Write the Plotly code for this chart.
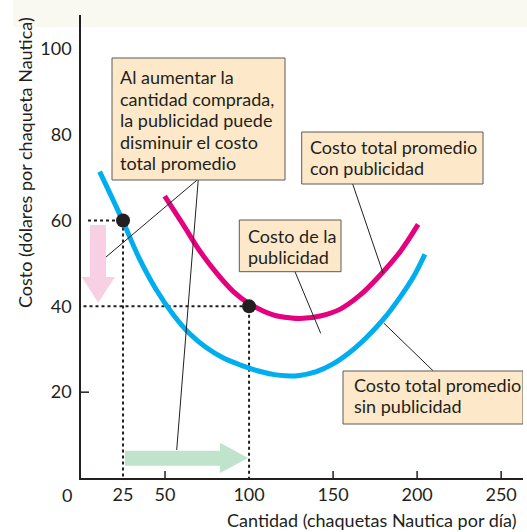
import plotly.graph_objects as go

# ---- data ----
x_sin = [11.1, 24.4, 34.9, 44.9, 54.8, 64.7, 74.5, 84.5, 95, 105, 115, 122, 130, 140, 150, 160, 170, 180, 190, 198, 204.6]
y_sin = [71.4, 60.3, 51.0, 43.8, 38.1, 33.6, 30.4, 28.0, 26.3, 25.0, 24.1, 23.8, 23.9, 24.8, 26.6, 29.3, 32.8, 37.0, 42.2, 47.0, 52.1]

x_con = [49.8, 60.7, 70.7, 80.6, 90.5, 99.8, 114.3, 125, 132.1, 143, 154, 166, 177.8, 190, 200.6]
y_con = [65.7, 59.1, 52.9, 47.8, 43.5, 40.7, 38.0, 37.3, 37.2, 37.8, 39.3, 42.6, 47.2, 52.8, 59.1]

pts_x = [25, 100]
pts_y = [60, 40]

x_ticks = [25, 50, 100, 150, 200, 250]
y_ticks = [20, 40, 60, 80, 100]

box_lines = [
    ["Al aumentar la", "cantidad comprada,", "la publicidad puede", "disminuir el costo", "total promedio"],
    ["Costo total promedio", "con publicidad"],
    ["Costo de la", "publicidad"],
    ["Costo total promedio", "sin publicidad"],
]

# ---- layout geometry (pixels) ----
W, H = 527, 532
L, R, T, B = 81, 4, 15, 54
XMAX, YMAX = 263, 107.9
PW, PH = W - L - R, H - T - B


def dx(px):
    return (px - L) * XMAX / PW


def dy(py):
    return (H - B - py) * YMAX / PH


def paper_x(px):
    return (px - L) / PW


def paper_y(py):
    return (H - B - py) / PH


# box rectangles in pixels: left, right, top, bottom, text-left, first baseline, line step
boxes_px = [
    (112, 285, 58, 180, 118, 83, 21.5),
    (301.7, 483, 132, 184, 308.3, 153.3, 20.7),
    (239.3, 341, 220, 271.7, 246, 242.3, 21),
    (343, 523, 371, 424, 351.7, 390.7, 21),
]

leaders_px = [
    (198.3, 179, 106, 257),
    (198.3, 179, 176.7, 450),
    (352.7, 184, 383, 273),
    (295, 271.7, 320.7, 333.3),
    (384, 323.3, 433.3, 371),
]

DARK = "#231f20"
BLUE = "#00aeef"
MAGENTA = "#e5007e"
FONT = "Lato"
FS = 18

fig = go.Figure()

fig.add_trace(go.Scatter(x=[dx(88), pts_x[0], pts_x[0]], y=[pts_y[0], pts_y[0], 0], mode="lines",
                         line=dict(color=DARK, width=2, dash="dot"), hoverinfo="skip", showlegend=False))
fig.add_trace(go.Scatter(x=[dx(83.5), pts_x[1], pts_x[1]], y=[pts_y[1], pts_y[1], 0], mode="lines",
                         line=dict(color=DARK, width=2, dash="dot"), hoverinfo="skip", showlegend=False))

fig.add_trace(go.Scatter(x=x_sin, y=y_sin, mode="lines",
                         line=dict(color=BLUE, width=5, shape="spline", smoothing=1.0), showlegend=False))
fig.add_trace(go.Scatter(x=x_con, y=y_con, mode="lines",
                         line=dict(color=MAGENTA, width=5, shape="spline", smoothing=1.0), showlegend=False))
fig.add_trace(go.Scatter(x=pts_x, y=pts_y, mode="markers", marker=dict(color=DARK, size=14),
                         showlegend=False))

shapes = []
# cream band at top of the page
shapes.append(dict(type="rect", xref="paper", yref="paper", x0=paper_x(13), x1=paper_x(W + 2),
                   y0=paper_y(27), y1=paper_y(-2),
                   fillcolor="#f9f8f1", line=dict(width=0), layer="below"))

# pink arrow (down)
p = dict(sx0=dx(90), sx1=dx(106), top=dy(225), hb=dy(277), hx0=dx(81.7), hx1=dx(115), tx=dx(98.3), ty=dy(302.7))
shapes.append(dict(type="path", xref="x", yref="y",
                   path=f"M {p['sx0']},{p['top']} L {p['sx1']},{p['top']} L {p['sx1']},{p['hb']} L {p['hx1']},{p['hb']} "
                        f"L {p['tx']},{p['ty']} L {p['hx0']},{p['hb']} L {p['sx0']},{p['hb']} Z",
                   fillcolor="#f8d0e3", line=dict(width=0), layer="below"))
# green arrow (right)
g = dict(x0=dx(125), hx=dx(220), y0=dy(465.7), y1=dy(450.7), hy0=dy(473), hy1=dy(442.7), tx=dx(248), ty=dy(458))
shapes.append(dict(type="path", xref="x", yref="y",
                   path=f"M {g['x0']},{g['y0']} L {g['hx']},{g['y0']} L {g['hx']},{g['hy0']} L {g['tx']},{g['ty']} "
                        f"L {g['hx']},{g['hy1']} L {g['hx']},{g['y1']} L {g['x0']},{g['y1']} Z",
                   fillcolor="#bfe3cb", line=dict(width=0), layer="below"))

# axis ticks (as in the reference: outside at 80/100, inside at 20, inside on x)
for v in [80, 100]:
    shapes.append(dict(type="line", xref="x", yref="y", x0=dx(L - 9), x1=0, y0=v, y1=v,
                       line=dict(color=DARK, width=1.5)))
shapes.append(dict(type="line", xref="x", yref="y", x0=0, x1=dx(L + 8), y0=20, y1=20,
                   line=dict(color=DARK, width=1.5)))
for v in [50, 150, 200, 250]:
    shapes.append(dict(type="line", xref="x", yref="y", x0=v, x1=v, y0=0, y1=dy(H - B - 7),
                       line=dict(color=DARK, width=1.5)))

for (a, b, c, d) in leaders_px:
    shapes.append(dict(type="line", xref="x", yref="y", x0=dx(a), y0=dy(b), x1=dx(c), y1=dy(d),
                       line=dict(color=DARK, width=1)))

annotations = []
for lines, (bl, br, bt, bb, tl, base, step) in zip(box_lines, boxes_px):
    shapes.append(dict(type="rect", xref="x", yref="y", x0=dx(bl), x1=dx(br), y0=dy(bt), y1=dy(bb),
                       fillcolor="#fde9c9", line=dict(color="#5a5a5a", width=1), layer="above"))
    for i, t in enumerate(lines):
        annotations.append(dict(text=t, x=dx(tl), y=dy(base + i * step - 0.33 * FS), xref="x", yref="y",
                                xanchor="left", yanchor="middle", showarrow=False,
                                font=dict(family=FONT, size=FS, color=DARK)))

annotations.append(dict(text="0", x=paper_x(67), y=paper_y(495), xref="paper", yref="paper",
                        xanchor="center", yanchor="middle", showarrow=False,
                        font=dict(family=FONT, size=FS, color=DARK)))
annotations.append(dict(text="Costo (dólares por chaqueta Nautica)", x=paper_x(25), y=paper_y(163),
                        xref="paper", yref="paper", xanchor="center", yanchor="middle",
                        textangle=-90, showarrow=False,
                        font=dict(family=FONT, size=FS, color=DARK)))
annotations.append(dict(text="Cantidad (chaquetas Nautica por día)", x=paper_x(372), y=paper_y(520),
                        xref="paper", yref="paper", xanchor="center", yanchor="middle", showarrow=False,
                        font=dict(family=FONT, size=FS, color=DARK)))

fig.update_layout(
    width=W, height=H,
    margin=dict(l=L, r=R, t=T, b=B),
    paper_bgcolor="white", plot_bgcolor="rgba(0,0,0,0)",
    shapes=shapes, annotations=annotations,
    font=dict(family=FONT, size=FS, color=DARK),
)
fig.update_xaxes(range=[0, XMAX], tickvals=x_ticks, ticktext=[str(v) for v in x_ticks],
                 ticks="", ticklabelstandoff=0,
                 showline=True, linewidth=1.5, linecolor=DARK, showgrid=False, zeroline=False,
                 tickfont=dict(family=FONT, size=FS, color=DARK))
fig.update_yaxes(range=[0, YMAX], tickvals=y_ticks, ticktext=[str(v) for v in y_ticks],
                 ticks="", ticklabelstandoff=4,
                 showline=True, linewidth=1.5, linecolor=DARK, showgrid=False, zeroline=False,
                 tickfont=dict(family=FONT, size=FS, color=DARK))

fig.write_html("out.html", config={"displayModeBar": False},
               post_script="document.body.style.margin='0px';")
